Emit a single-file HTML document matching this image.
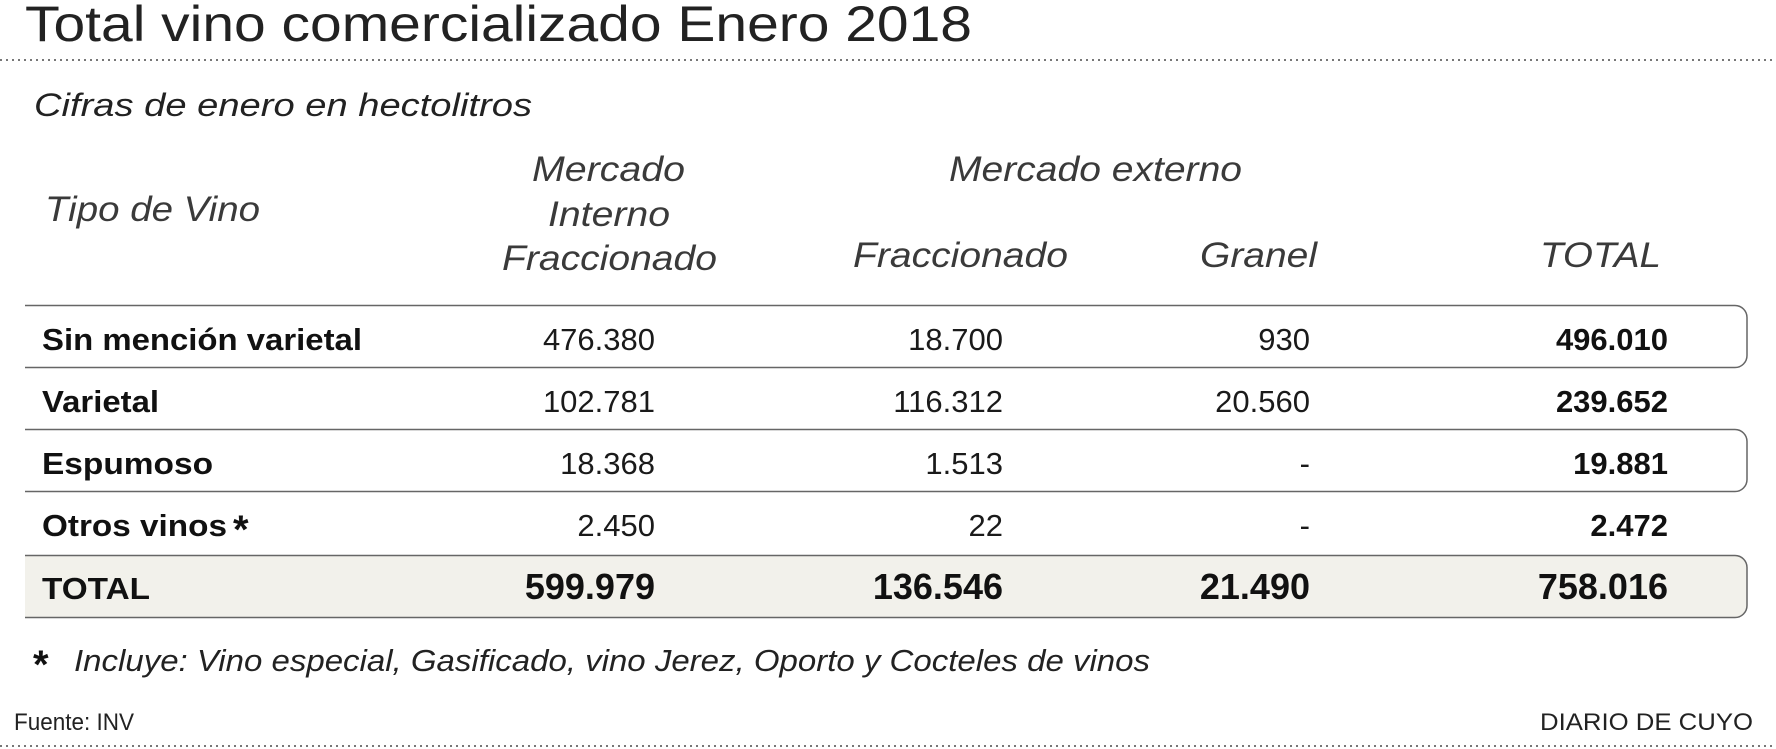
<!DOCTYPE html>
<html><head><meta charset="utf-8"><style>
html,body{margin:0;padding:0;background:#fff;}
svg{display:block;}
text{font-family:"Liberation Sans",sans-serif;}
.h{font-style:italic;fill:#3a3a3a;font-size:35px;}
.l{font-weight:bold;fill:#111;font-size:31px;}
.n{fill:#1a1a1a;font-size:31px;text-anchor:end;}
.b{font-weight:bold;fill:#111;font-size:31px;text-anchor:end;}
.t{font-weight:bold;fill:#111;font-size:36px;text-anchor:end;}
</style></head><body>
<svg width="1776" height="749" viewBox="0 0 1776 749" xmlns="http://www.w3.org/2000/svg">
<rect width="1776" height="749" fill="#fff"/>
<text x="25" y="41" font-size="50" fill="#222" textLength="947" lengthAdjust="spacingAndGlyphs">Total vino comercializado Enero 2018</text>
<line x1="0" y1="60" x2="1776" y2="60" stroke="#777" stroke-width="2" stroke-dasharray="2 4"/>
<text x="34" y="116" font-size="32" font-style="italic" fill="#222" textLength="498" lengthAdjust="spacingAndGlyphs">Cifras de enero en hectolitros</text>

<text class="h" x="45" y="221" textLength="215" lengthAdjust="spacingAndGlyphs">Tipo de Vino</text>
<text class="h" x="532" y="181" textLength="153" lengthAdjust="spacingAndGlyphs">Mercado</text>
<text class="h" x="548" y="226" textLength="122" lengthAdjust="spacingAndGlyphs">Interno</text>
<text class="h" x="502" y="270" textLength="215" lengthAdjust="spacingAndGlyphs">Fraccionado</text>
<text class="h" x="949" y="181" textLength="293" lengthAdjust="spacingAndGlyphs">Mercado externo</text>
<text class="h" x="853" y="267" textLength="215" lengthAdjust="spacingAndGlyphs">Fraccionado</text>
<text class="h" x="1200" y="267" textLength="117" lengthAdjust="spacingAndGlyphs">Granel</text>
<text class="h" x="1540" y="267" textLength="121" lengthAdjust="spacingAndGlyphs">TOTAL</text>

<path d="M25 555.5 H1735 a12 12 0 0 1 12 12 V605.5 a12 12 0 0 1 -12 12 H25 Z" fill="#f2f1eb" stroke="none"/>
<g fill="none" stroke="#666" stroke-width="1.5">
<path d="M25 305.5 H1735 a12 12 0 0 1 12 12 V355.5 a12 12 0 0 1 -12 12 H25"/>
<path d="M25 429.5 H1735 a12 12 0 0 1 12 12 V479.5 a12 12 0 0 1 -12 12 H25"/>
<path d="M25 555.5 H1735 a12 12 0 0 1 12 12 V605.5 a12 12 0 0 1 -12 12 H25"/>
</g>

<text class="l" x="42" y="350" textLength="320" lengthAdjust="spacingAndGlyphs">Sin mención varietal</text>
<text class="n" x="655" y="350">476.380</text>
<text class="n" x="1003" y="350">18.700</text>
<text class="n" x="1310" y="350">930</text>
<text class="b" x="1668" y="350">496.010</text>

<text class="l" x="42" y="412" textLength="117" lengthAdjust="spacingAndGlyphs">Varietal</text>
<text class="n" x="655" y="412">102.781</text>
<text class="n" x="1003" y="412">116.312</text>
<text class="n" x="1310" y="412">20.560</text>
<text class="b" x="1668" y="412">239.652</text>

<text class="l" x="42" y="474" textLength="171" lengthAdjust="spacingAndGlyphs">Espumoso</text>
<text class="n" x="655" y="474">18.368</text>
<text class="n" x="1003" y="474">1.513</text>
<text class="n" x="1310" y="474">-</text>
<text class="b" x="1668" y="474">19.881</text>

<text class="l" x="42" y="536" textLength="185" lengthAdjust="spacingAndGlyphs">Otros vinos</text>
<text x="233" y="543" font-size="40" font-weight="bold" fill="#111">*</text>
<text class="n" x="655" y="536">2.450</text>
<text class="n" x="1003" y="536">22</text>
<text class="n" x="1310" y="536">-</text>
<text class="b" x="1668" y="536">2.472</text>

<text class="l" x="42" y="599" textLength="108" lengthAdjust="spacingAndGlyphs">TOTAL</text>
<text class="t" x="655" y="599">599.979</text>
<text class="t" x="1003" y="599">136.546</text>
<text class="t" x="1310" y="599">21.490</text>
<text class="t" x="1668" y="599">758.016</text>

<text x="33" y="678" font-size="40" font-weight="bold" fill="#111">*</text>
<text x="74" y="671" font-size="31" font-style="italic" fill="#222" textLength="1076" lengthAdjust="spacingAndGlyphs">Incluye: Vino especial, Gasificado, vino Jerez, Oporto y Cocteles de vinos</text>
<text x="14" y="730" font-size="24" fill="#222" textLength="120" lengthAdjust="spacingAndGlyphs">Fuente: INV</text>
<text x="1540" y="730" font-size="24" fill="#222" textLength="213" lengthAdjust="spacingAndGlyphs">DIARIO DE CUYO</text>
<line x1="0" y1="746" x2="1776" y2="746" stroke="#777" stroke-width="2" stroke-dasharray="2 4"/>
</svg>
</body></html>
